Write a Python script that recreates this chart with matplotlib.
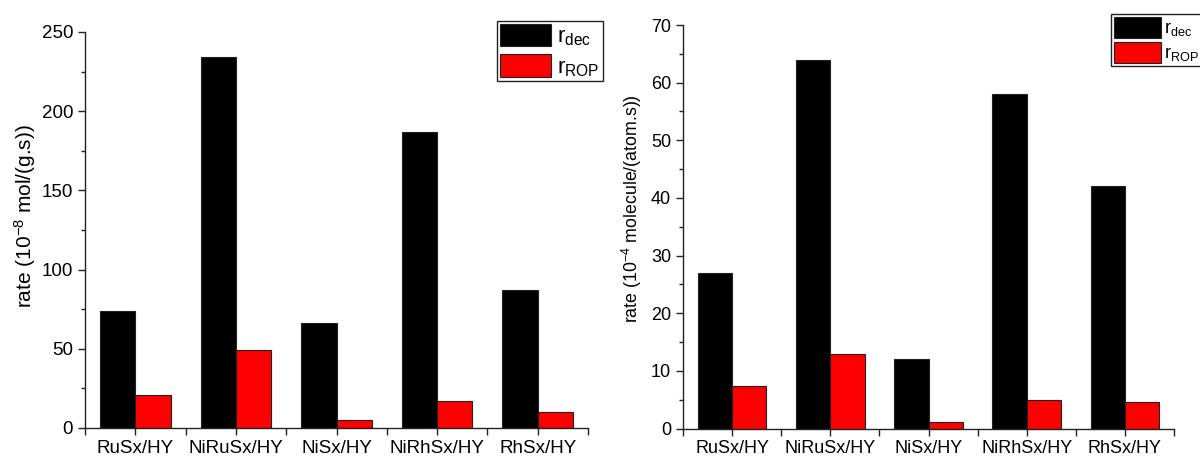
import matplotlib
matplotlib.use("Agg")
import matplotlib.pyplot as plt
import numpy as np
from matplotlib.patches import Patch
from matplotlib.ticker import MultipleLocator

plt.rcParams['font.family'] = ['Liberation Sans', 'DejaVu Sans']
plt.rcParams['mathtext.fontset'] = 'custom'
plt.rcParams['mathtext.rm'] = 'Liberation Sans'
plt.rcParams['mathtext.it'] = 'Liberation Sans'

categories = ["RuSx/HY", "NiRuSx/HY", "NiSx/HY", "NiRhSx/HY", "RhSx/HY"]
r_dec_mass = [74, 234, 66, 187, 87]
r_rop_mass = [21, 49, 5, 17, 10]
r_dec_atom = [27, 64, 12, 58, 42]
r_rop_atom = [7.4, 12.9, 1.1, 4.9, 4.6]
legend_labels = [r"r$_{\rm dec}$", r"r$_{\rm ROP}$"]

fig = plt.figure(figsize=(12, 4.59), dpi=100)
ax1 = fig.add_axes([85/1200, 1-428/459, (588-85)/1200, (428-32)/459])
ax2 = fig.add_axes([683/1200, 1-428.5/459, (1174-683)/1200, (428.5-25)/459])

def draw(ax, dec, rop, ymax, major, minor, ylabel, fs_tick, fs_label):
    x = np.arange(len(categories))
    w = 0.35
    ax.bar(x - w/2, dec, w, color='black', edgecolor='#222222', linewidth=0.8)
    ax.bar(x + w/2, rop, w, color='#ff0000', edgecolor='#222222', linewidth=0.8)
    ax.set_xlim(-0.5, len(categories) - 0.5)
    ax.set_ylim(0, ymax)
    ax.set_xticks(x)
    ax.set_xticklabels(categories, fontsize=fs_tick)
    ax.set_xticks(np.arange(len(categories) + 1) - 0.5, minor=True)
    ax.yaxis.set_major_locator(MultipleLocator(major))
    ax.yaxis.set_minor_locator(MultipleLocator(minor))
    for s in ['top', 'right']:
        ax.spines[s].set_visible(False)
    for s in ['left', 'bottom']:
        ax.spines[s].set_linewidth(1.0)
        ax.spines[s].set_color('#222222')
    ax.tick_params(axis='both', which='major', direction='out', length=5, width=1, color='#222222', labelsize=fs_tick)
    ax.tick_params(axis='both', which='minor', direction='out', length=3, width=1, color='#222222')
    ax.tick_params(axis='x', which='minor', length=5)
    ax.set_ylabel(ylabel, fontsize=fs_label)
    ax.set_facecolor('white')

draw(ax1, r_dec_mass, r_rop_mass, 250, 50, 25, r"rate (10$^{-8}$ mol/(g.s))", 13.5, 15)
draw(ax2, r_dec_atom, r_rop_atom, 70, 10, 5, r"rate (10$^{-4}$ molecule/(atom.s))", 13, 12.8)
ax1.yaxis.set_label_coords(-0.093, 0.535)
ax2.yaxis.set_label_coords(-0.079, 0.544)

handles = [Patch(facecolor='black', edgecolor='#222222', linewidth=0.8),
           Patch(facecolor='#ff0000', edgecolor='#222222', linewidth=0.8)]

leg1 = fig.legend(handles, legend_labels, loc='upper left', bbox_to_anchor=(497/1200, 1-21/459),
                  fontsize=16, handlelength=2.3, handleheight=1.15, labelspacing=0.3,
                  borderpad=0.12, handletextpad=0.3, borderaxespad=0, fancybox=False,
                  framealpha=1, edgecolor='#222222')
leg1.get_frame().set_linewidth(1.0)
leg2 = fig.legend(handles, legend_labels, loc='upper left', bbox_to_anchor=(1111/1200, 1-14/459),
                  fontsize=13, handlelength=2.6, handleheight=1.4, labelspacing=0.2,
                  borderpad=0.15, handletextpad=0.2, borderaxespad=0, fancybox=False,
                  framealpha=1, edgecolor='#222222')
leg2.get_frame().set_linewidth(1.0)

fig.savefig("out.png", dpi=100, facecolor='white')
